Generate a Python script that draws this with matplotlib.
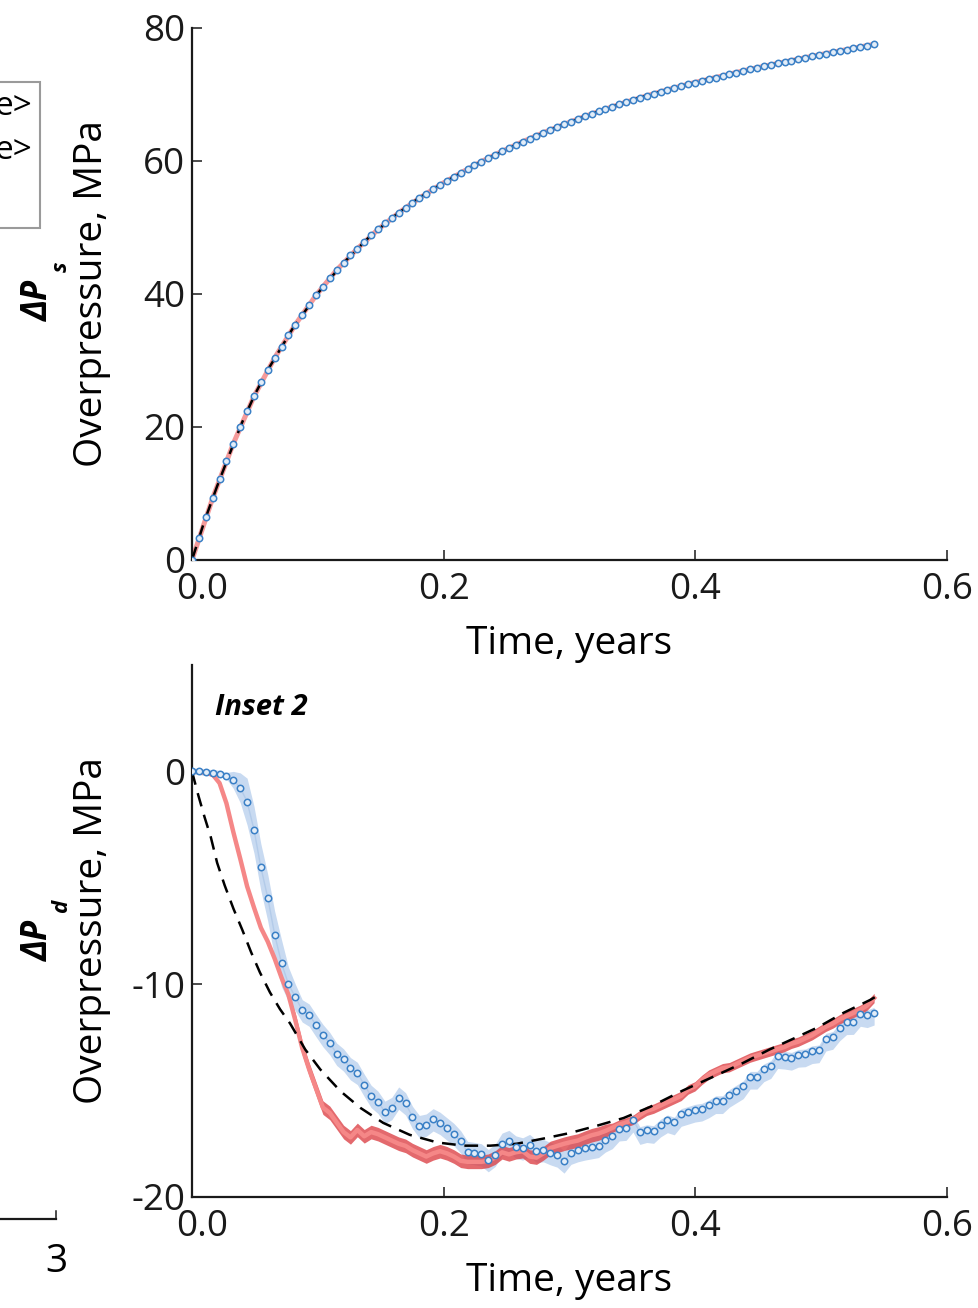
import numpy as np
import matplotlib
matplotlib.use("Agg")
import matplotlib.pyplot as plt
import matplotlib.transforms as mtransforms
from matplotlib.patches import Rectangle
from matplotlib.lines import Line2D

plt.rcParams["font.family"] = ["Open Sans", "DejaVu Sans"]
plt.rcParams["axes.unicode_minus"] = False

RED_LINE = "#f58787"
RED_BAND = "#dc4449"
BLUE_EDGE = "#3a80c6"
BLUE_FACE = "#e3edf8"
BLUE_BAND = "#c8daf1"
BLUE_LINE = "#b3cbe9"
AXC = "#1a1a1a"

# model output every 2 days
days = np.arange(0, 200, 2)
t = days / 365.25

# ---- shallow reservoir (ΔP_s) ----
top_sim = [0, 3.3, 6.4, 9.3, 12.1, 14.9, 17.5, 20.0, 22.4, 24.6,
           26.7, 28.6, 30.4, 32.1, 33.8, 35.4, 36.9, 38.4, 39.8, 41.1,
           42.4, 43.6, 44.7, 45.8, 46.8, 47.8, 48.8, 49.7, 50.6, 51.4,
           52.2, 53.0, 53.7, 54.4, 55.1, 55.8, 56.4, 57.0, 57.6, 58.2,
           58.8, 59.35, 59.9, 60.45, 60.95, 61.45, 61.95, 62.45, 62.9, 63.35,
           63.8, 64.25, 64.7, 65.1, 65.5, 65.9, 66.3, 66.7, 67.1, 67.45,
           67.8, 68.15, 68.5, 68.85, 69.2, 69.5, 69.8, 70.1, 70.4, 70.7,
           71.0, 71.3, 71.55, 71.8, 72.05, 72.3, 72.55, 72.8, 73.05, 73.3,
           73.55, 73.8, 74.0, 74.25, 74.45, 74.7, 74.9, 75.1, 75.35, 75.55,
           75.75, 75.95, 76.15, 76.35, 76.55, 76.75, 76.95, 77.15, 77.35, 77.55]

top_red_days = np.arange(0, 200, 6)
top_red = [0, 9.3, 17.5, 24.6, 30.4, 35.4, 39.8, 43.6, 46.8, 49.7, 52.2, 54.4,
           56.4, 58.2, 59.9, 61.45, 62.9, 64.25, 65.5, 66.7, 67.8, 68.85, 69.8,
           70.7, 71.55, 72.3, 73.05, 73.8, 74.45, 75.1, 75.75, 76.35, 76.95, 77.55]

t_ana_top = [0, .01, .02, .03, .04, .05, .06, .08, .10, .12, .14, .16, .18,
             .20, .23, .26, .29, .32, .35, .38, .41, .44, .47, .50, .543]
top_ana = [0, 5.9, 11.1, 16.0, 20.75, 24.9, 28.5, 34.8, 40.1, 44.6, 48.4, 51.6,
           54.4, 56.75, 59.9, 62.65, 65.1, 67.25, 69.2, 70.85, 72.3, 73.55,
           74.9, 75.95, 77.55]

# ---- deep reservoir (ΔP_d), Inset 2 ----
bot_blue = [0, 0.0, -0.05, -0.06, -0.1, -0.2, -0.4, -0.77, -1.42, -2.74,
            -4.51, -5.94, -7.67, -9.02, -10.0, -10.6, -11.23, -11.43, -11.92, -12.39,
            -12.77, -13.27, -13.54, -13.95, -14.17, -14.73, -15.25, -15.53, -16.0, -15.82,
            -15.33, -15.6, -16.24, -16.67, -16.6, -16.35, -16.52, -16.78, -17.04, -17.39,
            -17.89, -17.94, -18.0, -18.27, -18.02, -17.5, -17.37, -17.63, -17.72, -17.56,
            -17.83, -17.8, -17.94, -18.05, -18.33, -17.92, -17.8, -17.72, -17.66, -17.6,
            -17.34, -17.15, -16.79, -16.76, -16.37, -16.95, -16.86, -16.9, -16.6, -16.4,
            -16.5, -16.1, -16.0, -15.9, -15.85, -15.7, -15.5, -15.5, -15.2, -15.0,
            -14.8, -14.35, -14.35, -14.0, -13.85, -13.38, -13.41, -13.46, -13.32, -13.3,
            -13.15, -13.11, -12.56, -12.48, -12.08, -11.79, -11.78, -11.4, -11.46, -11.34]
blue_hi = [0.15] * 6 + [0.4, 0.7] + [1.1] * 6 + [0.8, 0.6] + [0.5] * 45 + [0.25] * 39
blue_lo = [0.15] * 6 + [0.4, 0.7] + [1.1] * 6 + [0.8, 0.65] + [0.55] * 45 + [0.58] * 39

bot_red = [0, 0.0, -0.05, -0.15, -0.55, -1.5, -2.85, -4.1, -5.4, -6.4,
           -7.35, -8.0, -8.8, -9.7, -10.5, -11.7, -13.0, -14.0, -14.9, -15.8,
           -16.05, -16.5, -16.95, -17.2, -16.85, -17.15, -16.95, -17.05, -17.2, -17.35,
           -17.5, -17.6, -17.8, -17.95, -18.1, -17.95, -17.85, -17.95, -18.1, -18.3,
           -18.35, -18.35, -18.35, -18.3, -18.15, -17.9, -18.0, -17.9, -17.85, -18.1,
           -18.15, -17.95, -17.7, -17.6, -17.5, -17.42, -17.35, -17.22, -17.1, -17.02,
           -16.9, -16.75, -16.6, -16.5, -16.38, -16.15, -15.95, -15.85, -15.7, -15.55,
           -15.4, -15.25, -14.95, -14.8, -14.5, -14.25, -14.1, -13.95, -13.9, -13.75,
           -13.6, -13.45, -13.35, -13.25, -13.15, -13.05, -12.95, -12.8, -12.7, -12.55,
           -12.4, -12.2, -12.0, -11.85, -11.65, -11.5, -11.35, -11.2, -11.0, -10.65]
red_sd = [0.1] * 15 + [0.32] * 46 + [0.22] * 39

t_ana_bot = [0, .002, .005, .01, .015, .02, .026, .033, .04, .047, .054, .062,
             .07, .078, .09, .102, .118, .134, .152, .173, .195, .216, .237,
             .258, .279, .30, .322, .343, .364, .39, .418, .438, .459, .478,
             .497, .518, .539, .543]
bot_ana = [0, -0.45, -1.12, -2.15, -3.1, -4.3, -5.36, -6.46, -7.45, -8.5,
           -9.45, -10.39, -11.18, -11.85, -13.07, -14.01, -15.03, -15.82, -16.52,
           -17.08, -17.44, -17.59, -17.59, -17.5, -17.26, -17.0, -16.65, -16.29,
           -15.77, -15.0, -14.25, -13.7, -13.07, -12.56, -12.04, -11.34, -10.74, -10.6]

fig = plt.figure(figsize=(9.79, 13.08), dpi=100)
ax1 = fig.add_axes([0.1961, 0.5719, 0.7712, 0.4067])
ax2 = fig.add_axes([0.1961, 0.0849, 0.7712, 0.4067])

DASH = (0, (5.5, 3.5))

# top panel
ax1.plot(top_red_days / 365.25, top_red, color="#f59a9a", lw=3.6, zorder=2)
ax1.plot(t_ana_top, top_ana, color="k", lw=1.8, ls=DASH, zorder=3)
ax1.plot(t, top_sim, ls="none", marker="o", ms=4.6, mfc=BLUE_FACE,
         mec=BLUE_EDGE, mew=1.1, zorder=4)
ax1.set_ylim(0, 80)
ax1.set_yticks([0, 20, 40, 60, 80])

# bottom panel
bb = np.array(bot_blue)
br = np.array(bot_red)
ax2.fill_between(t, bb - np.array(blue_lo), bb + np.array(blue_hi),
                 color=BLUE_BAND, lw=0, zorder=1)
ax2.plot(t, bb, color=BLUE_LINE, lw=1.0, zorder=2)
ax2.fill_between(t, br - np.array(red_sd), br + np.array(red_sd),
                 color=RED_BAND, alpha=0.8, lw=0, zorder=3)
ax2.plot(t, br, color=RED_LINE, lw=3.2, zorder=4)
ax2.plot(t_ana_bot, bot_ana, color="k", lw=1.8, ls=DASH, zorder=5)
ax2.plot(t, bb, ls="none", marker="o", ms=4.6, mfc=BLUE_FACE,
         mec=BLUE_EDGE, mew=1.1, zorder=6)
ax2.set_ylim(-20, 5)
ax2.set_yticks([-20, -10, 0])
ax2.text(0.031, 0.906, "Inset 2", transform=ax2.transAxes, fontsize=21,
         fontweight="bold", style="italic")

# nudge the "0.0" label clear of the y-axis zero
nudge = mtransforms.ScaledTranslation(10 / 100, 0, fig.dpi_scale_trans)

for ax in (ax1, ax2):
    ax.set_xlim(0, 0.6)
    ax.set_xticks([0.0, 0.2, 0.4, 0.6])
    ax.set_xticklabels(["0.0", "0.2", "0.4", "0.6"])
    for s in ("top", "right"):
        ax.spines[s].set_visible(False)
    for s in ("left", "bottom"):
        ax.spines[s].set_linewidth(1.6)
        ax.spines[s].set_color(AXC)
    ax.tick_params(direction="in", length=7, width=1.1, labelsize=26.5,
                   colors=AXC)
    ax.tick_params(axis="x", pad=9)
    ax.tick_params(axis="y", pad=5)
    ax.set_xlabel("Time, years", fontsize=28, labelpad=12)
    ax.set_ylabel("Overpressure, MPa", fontsize=28)
    ax.yaxis.set_label_coords(-0.107, 0.5)
    lab0 = ax.get_xticklabels()[0]
    lab0.set_transform(lab0.get_transform() + nudge)

# reservoir tags beside the y labels
for ycen, sub in ((0.770, "s"), (0.281, "d")):
    fig.text(0.040, ycen, "ΔP", rotation=90, ha="center", va="center",
             fontsize=25, fontweight="bold", style="italic")
    fig.text(0.063, ycen + 0.026, sub, rotation=90, ha="center", va="center",
             fontsize=16, fontweight="bold", style="italic")

# edge of the neighbouring panel
fig.patches.append(Rectangle((-0.02, 0.8257), 0.0612, 0.1116,
                             transform=fig.transFigure, facecolor="white",
                             edgecolor="#9a9a9a", lw=1.5))
for yy in (0.9182, 0.8853):
    fig.text(0.033, yy, "e>", ha="right", va="center", fontsize=24)
fig.lines.append(Line2D([0, 0.0572], [0.068, 0.068], transform=fig.transFigure,
                        color=AXC, lw=1.6))
fig.lines.append(Line2D([0.0572, 0.0572], [0.068, 0.074],
                        transform=fig.transFigure, color=AXC, lw=1.1))
fig.text(0.0572, 0.0352, "3", ha="center", va="center", fontsize=28)

fig.savefig("out.png", dpi=100)
